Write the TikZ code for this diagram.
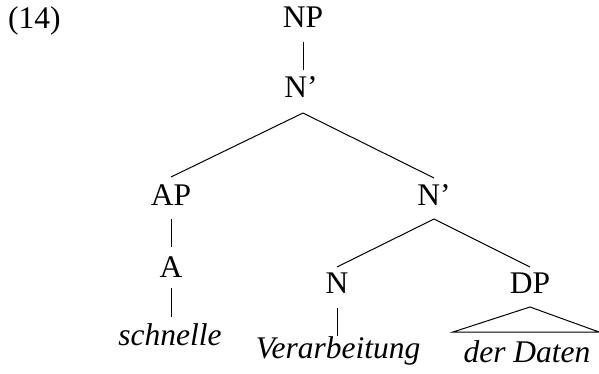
\documentclass[tikz,border=0pt]{standalone}
\usepackage{fontspec}
\setmainfont{Liberation Serif}
\begin{document}
\begin{tikzpicture}[x=1pt,y=-1pt,
  lbl/.style={anchor=base,inner sep=0pt,font=\fontsize{31.5}{38}\selectfont},
  wrd/.style={lbl,font=\fontsize{31.5}{38}\selectfont\itshape},
  edge/.style={line width=1pt}]
\useasboundingbox (0,0) rectangle (599,374);
\node[lbl,anchor=base west] (ex) at (8,29) {(14)};
\node[lbl] (np) at (303,28) {NP};
\node[lbl] (n1) at (301,98) {N'};
\node[lbl] (ap) at (171,205) {AP};
\node[lbl] (n2) at (434,205) {N'};
\node[lbl] (a) at (171,277) {A};
\node[lbl] (n) at (337,293) {N};
\node[lbl] (dp) at (530,293) {DP};
\node[wrd] (schnelle) at (170,345) {schnelle};
\node[wrd] (verarb) at (338,358) {Verarbeitung};
\node[wrd] (daten) at (527,362) {der Daten};
\draw[edge] ([yshift=-14pt]np.base) -- ([yshift=28pt,xshift=2pt]n1.base);
\draw[edge] ([yshift=-15pt,xshift=2pt]n1.base) -- ([yshift=28pt]ap.base);
\draw[edge] ([yshift=-15pt,xshift=2pt]n1.base) -- ([yshift=27pt]n2.base);
\draw[edge] ([yshift=-14pt]ap.base) -- ([yshift=30pt]a.base);
\draw[edge] ([yshift=-11pt]a.base) -- ([yshift=28pt,xshift=1pt]schnelle.base);
\draw[edge] ([yshift=-14pt]n2.base) -- ([yshift=26pt]n.base);
\draw[edge] ([yshift=-14pt]n2.base) -- ([yshift=26pt]dp.base);
\draw[edge] ([yshift=-15pt]n.base) -- ([yshift=22pt,xshift=-1pt]verarb.base);
\draw[edge] ([yshift=-14pt]dp.base) -- ++(-77,25) -- ++(146,0) -- cycle;
\end{tikzpicture}
\end{document}
